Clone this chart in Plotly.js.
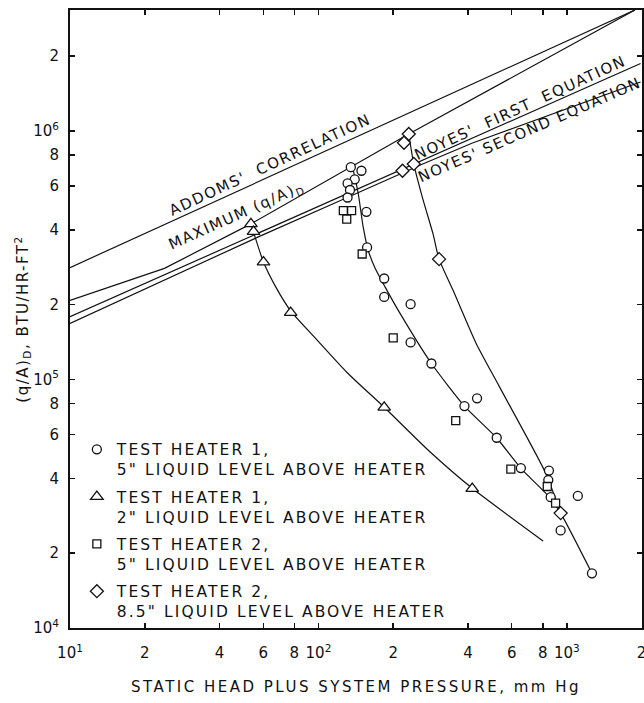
<!DOCTYPE html>
<html>
<head>
<meta charset="utf-8">
<script src="https://cdn.plot.ly/plotly-3.0.1.min.js"></script>
<style>
  html, body { margin: 0; padding: 0; background: #fff; }
  #chart { width: 644px; height: 703px; }
  .legendtext { letter-spacing: 2.1px; }
  .annotation-text { letter-spacing: 1.6px; }
  .xtitle { letter-spacing: 2.5px; }
  .ytitle { letter-spacing: 1.5px; }
</style>
</head>
<body>
<div id="chart"></div>
<script>
// Test heater 1, 5" liquid level (circles)
const h1Level5X = [135, 149, 140, 131, 134, 131, 156, 157, 184, 184, 235, 235, 285, 387, 435, 522, 653, 847, 842, 861, 1107, 944, 1262];
const h1Level5Y = [7.15e5, 6.92e5, 6.39e5, 6.16e5, 5.79e5, 5.40e5, 4.73e5, 3.40e5, 2.55e5, 2.15e5, 2.01e5, 1.41e5, 1.16e5, 7.82e4, 8.4e4, 5.83e4, 4.40e4, 4.30e4, 3.94e4, 3.36e4, 3.40e4, 2.47e4, 1.66e4];

// Test heater 1, 2" liquid level (triangles)
const h1Level2X = [53.5, 54.8, 60.1, 77.3, 184, 416];
const h1Level2Y = [4.23e5, 3.94e5, 2.97e5, 1.86e5, 7.73e4, 3.64e4];

// Test heater 2, 5" liquid level (squares)
const h2Level5X = [126, 136, 130, 150, 200, 357, 595, 834, 901];
const h2Level5Y = [4.78e5, 4.78e5, 4.42e5, 3.20e5, 1.47e5, 6.83e4, 4.36e4, 3.71e4, 3.18e4];

// Test heater 2, 8.5" liquid level (diamonds)
const h2Level85X = [231, 221, 218, 242, 306, 944];
const h2Level85Y = [9.73e5, 8.97e5, 6.92e5, 7.37e5, 3.05e5, 2.90e4];

// Faired curves through the data
const curveH1L5X = [138, 144.5, 151.4, 158.5, 169, 185.4, 212.8, 285, 387, 521, 653, 847, 944, 1262];
const curveH1L5Y = [6.97e5, 5.63e5, 4.11e5, 3.32e5, 2.81e5, 2.36e5, 1.85e5, 1.16e5, 7.82e4, 5.83e4, 4.39e4, 3.38e4, 2.90e4, 1.66e4];

const curveH1L2X = [53.5, 60.1, 67.3, 77.3, 95.8, 130, 184, 281, 416, 802];
const curveH1L2Y = [4.23e5, 2.97e5, 2.36e5, 1.89e5, 1.49e5, 1.07e5, 7.73e4, 5.12e4, 3.65e4, 2.24e4];

const curveH2L85X = [231, 242, 264, 289, 306, 348, 431, 535, 822, 944];
const curveH2L85Y = [9.73e5, 7.36e5, 5.27e5, 3.87e5, 3.05e5, 2.29e5, 1.40e5, 9.36e4, 4.20e4, 2.90e4];

// Correlations
const addomsX = [10, 1880];
const addomsY = [2.82e5, 3.07e6];
const maxFluxX = [10, 24, 53.5, 135, 231, 1880];
const maxFluxY = [2.08e5, 2.80e5, 4.23e5, 7.15e5, 9.73e5, 3.07e6];
const noyesFirstX = [10, 1980];
const noyesFirstY = [1.79e5, 1.87e6];
const noyesSecondX = [10, 57, 124, 260, 417, 1980];
const noyesSecondY = [1.68e5, 3.74e5, 5.28e5, 7.33e5, 8.95e5, 1.575e6];

// Axis ticks
const xTickVals = [10, 20, 40, 60, 80, 100, 200, 400, 600, 800, 1000, 2000];
const xTickText = ['10<sup>1</sup>', '2', '4', '6', '8', '10<sup>2</sup>', '2', '4', '6', '8', '10<sup>3</sup>', '2'];
const yTickVals = [1e4, 2e4, 4e4, 6e4, 8e4, 1e5, 2e5, 4e5, 6e5, 8e5, 1e6, 2e6];
const yTickText = ['10<sup>4</sup>', '2', '4', '6', '8', '10<sup>5</sup>', '2', '4', '6', '8', '10<sup>6</sup>', '2'];

const INK = '#111';
const FONT = 'DejaVu Sans, sans-serif';

function curve(x, y, shape) {
  return { x: x, y: y, type: 'scatter', mode: 'lines', showlegend: false, hoverinfo: 'skip',
           line: { color: INK, width: 1.2, shape: shape || 'linear', smoothing: 0.6 } };
}
function points(x, y, symbol, size, name, group) {
  return { x: x, y: y, type: 'scatter', mode: 'markers', name: name, legendgroup: group,
           marker: { symbol: symbol, size: size, color: '#fff', line: { color: INK, width: 1.3 } } };
}

const traces = [
  curve(addomsX, addomsY),
  curve(maxFluxX, maxFluxY),
  curve(noyesFirstX, noyesFirstY),
  curve(noyesSecondX, noyesSecondY),
  curve(curveH1L5X, curveH1L5Y, 'spline'),
  curve(curveH1L2X, curveH1L2Y, 'spline'),
  curve(curveH2L85X, curveH2L85Y, 'spline'),
  points(h1Level5X, h1Level5Y, 'circle', 9, 'TEST HEATER 1,<br>5" LIQUID LEVEL ABOVE HEATER', 'a'),
  points(h1Level2X, h1Level2Y, 'triangle-up', 11, 'TEST HEATER 1,<br>2" LIQUID LEVEL ABOVE HEATER', 'b'),
  points(h2Level5X, h2Level5Y, 'square', 8, 'TEST HEATER 2,<br>5" LIQUID LEVEL ABOVE HEATER', 'c'),
  points(h2Level85X, h2Level85Y, 'diamond', 10, 'TEST HEATER 2,<br>8.5" LIQUID LEVEL ABOVE HEATER', 'd')
];

function lineLabel(text, lx, ly, angle) {
  return { text: text, x: lx, y: ly, xref: 'x', yref: 'y', showarrow: false,
           textangle: angle, xanchor: 'center', yanchor: 'middle',
           font: { family: FONT, size: 15, color: INK } };
}

const axisCommon = {
  type: 'log', tickmode: 'array', ticks: 'inside', ticklen: 5, tickwidth: 1.5, tickcolor: INK,
  showline: true, linewidth: 2, linecolor: INK, mirror: 'ticks', showgrid: false, zeroline: false,
  automargin: false, ticklabeloverflow: 'allow', tickfont: { family: FONT, size: 15, color: INK }
};

const layout = {
  width: 644, height: 703,
  margin: { l: 70, r: 2, t: 10, b: 75 },
  paper_bgcolor: '#fff', plot_bgcolor: '#fff',
  font: { family: FONT, color: INK },
  xaxis: Object.assign({}, axisCommon, {
    range: [1, 3.3025], tickvals: xTickVals, ticktext: xTickText, ticklabelstandoff: 10,
    title: { text: 'STATIC HEAD PLUS SYSTEM PRESSURE, mm Hg', font: { family: FONT, size: 15, color: INK }, standoff: 20 }
  }),
  yaxis: Object.assign({}, axisCommon, {
    range: [4, 6.487], tickvals: yTickVals, ticktext: yTickText, ticklabelstandoff: 6,
    title: { text: '(q/A)<sub>D</sub>, BTU/HR-FT<sup>2</sup>', font: { family: FONT, size: 15, color: INK }, standoff: 0 }
  }),
  legend: {
    x: 0.012, y: 0.316, xanchor: 'left', yanchor: 'top', valign: 'top',
    bgcolor: 'rgba(0,0,0,0)', borderwidth: 0, itemwidth: 30, tracegroupgap: 4,
    font: { family: FONT, size: 15.5, color: INK }
  },
  annotations: [
    lineLabel("ADDOMS'  CORRELATION", 1.804, 5.863, -25),
    lineLabel("MAXIMUM (q/A)<sub>D</sub>", 1.672, 5.662, -24),
    lineLabel("NOYES'  FIRST  EQUATION", 2.812, 6.093, -24.5),
    lineLabel("NOYES' SECOND EQUATION", 2.848, 6.004, -23.5)
  ]
};

Plotly.newPlot('chart', traces, layout, { displayModeBar: false, staticPlot: true });
</script>
</body>
</html>
